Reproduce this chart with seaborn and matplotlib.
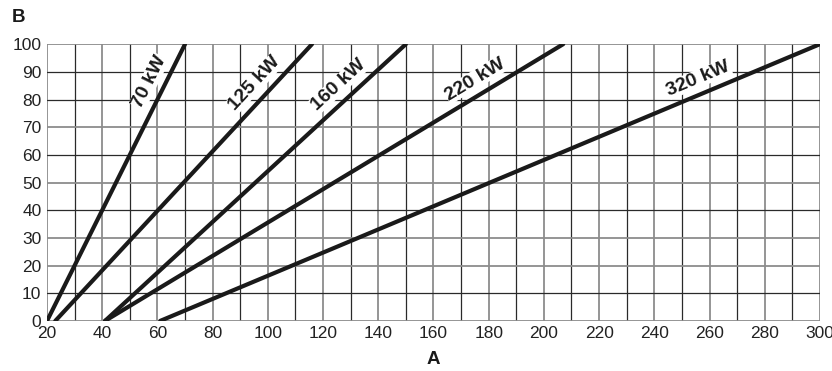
import numpy as np
import pandas as pd
import matplotlib
matplotlib.use("Agg")
import matplotlib.pyplot as plt
import matplotlib.transforms as mtransforms
import seaborn as sns

# power curves: value of A where each line meets B=0 and B=100
powers = ["70 kW", "125 kW", "160 kW", "220 kW", "320 kW"]
a_at_b0 = [20, 23, 41, 41, 61]
a_at_b100 = [70, 116, 150, 207, 300]
b_ends = [0, 100]
# height (B) on each line where its label sits
label_b = [84, 82, 81, 82.5, 82.5]

x_ticks = list(range(20, 301, 20))
y_ticks = list(range(0, 101, 10))

rows = []
for p, a0, a1 in zip(powers, a_at_b0, a_at_b100):
    rows.append({"power": p, "A": a0, "B": b_ends[0]})
    rows.append({"power": p, "A": a1, "B": b_ends[1]})
df = pd.DataFrame(rows)

sns.set_style("white")
plt.rcParams["font.family"] = ["Liberation Sans", "DejaVu Sans"]
tick_font = ["Liberation Sans Narrow", "Liberation Sans"]

fig = plt.figure(figsize=(8.32, 3.71), dpi=100)
ax = fig.add_axes([0.0565, 0.135, 0.929, 0.746])

# grid: a mix of darker and lighter lines, like the scanned original
dark_h = [10, 40, 60, 80, 90]
for x in range(20, 301, 10):
    if x % 20 == 0:
        ax.axvline(x, color="#8c8c8c", lw=1.3, zorder=1)
    else:
        ax.axvline(x, color="#2a2a2a", lw=0.9, zorder=1)
for y in range(0, 101, 10):
    if y in dark_h:
        ax.axhline(y, color="#2a2a2a", lw=0.9, zorder=1)
    else:
        ax.axhline(y, color="#8c8c8c", lw=1.3, zorder=1)

sns.lineplot(data=df, x="A", y="B", hue="power", palette=["#1a1a1a"] * 5,
             lw=3, legend=False, ax=ax, zorder=3, solid_capstyle="round")

ax.set_xlim(20, 300)
ax.set_ylim(0, 100)
ax.set_xticks(x_ticks, labels=[str(v) for v in x_ticks], fontfamily=tick_font, fontsize=12.5)
ax.set_yticks(y_ticks, labels=[str(v) for v in y_ticks], fontfamily=tick_font, fontsize=12.5)
ax.tick_params(length=0, colors="#222222", pad=4)
ax.set_xlabel("")
ax.set_ylabel("")
for s in ax.spines.values():
    s.set_visible(False)

fig.canvas.draw()
for p, a0, a1, lb in zip(powers, a_at_b0, a_at_b100, label_b):
    xa = a0 + (a1 - a0) * lb / 100
    p0 = ax.transData.transform((a0, 0))
    p1 = ax.transData.transform((a1, 100))
    ang = np.degrees(np.arctan2(p1[1] - p0[1], p1[0] - p0[0]))
    nx, ny = -np.sin(np.radians(ang)), np.cos(np.radians(ang))
    off = mtransforms.offset_copy(ax.transData, fig=fig, x=nx * 11, y=ny * 11, units="points")
    ax.text(xa, lb, p, transform=off, rotation=ang, rotation_mode="anchor",
            ha="center", va="center", fontsize=14, fontweight="bold", color="#1a1a1a",
            zorder=4, bbox=dict(facecolor="white", edgecolor="none", pad=0.3))

fig.text(12 / 832, 1 - 18 / 371, "B", fontsize=13.5, fontweight="bold", ha="left", va="center", color="#1a1a1a")
fig.text(433 / 832, 1 - 360 / 371, "A", fontsize=13.5, fontweight="bold", ha="center", va="center", color="#1a1a1a")

fig.savefig("out.png", dpi=100)
